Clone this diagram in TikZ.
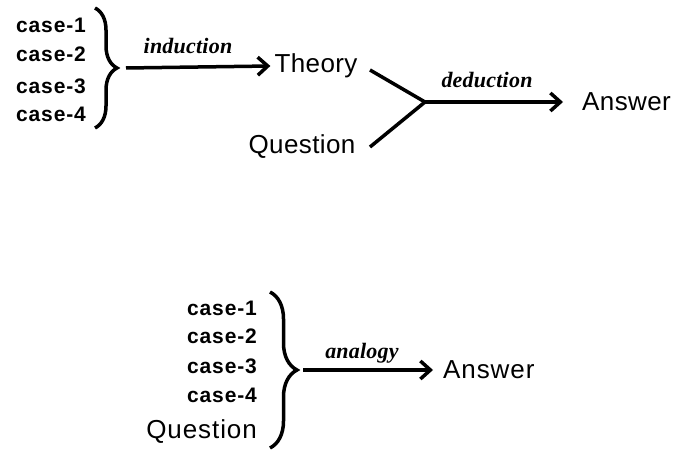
\documentclass[tikz,border=0pt]{standalone}
\usepackage{fontspec}
\setmainfont{Liberation Sans}
\usetikzlibrary{decorations.pathreplacing,arrows.meta}
\newfontfamily\casefont[LetterSpace=4]{Liberation Sans}
\newfontfamily\wordfont[LetterSpace=1.5]{Liberation Sans}
\newfontfamily\wordfontb[LetterSpace=3.5]{Liberation Sans}
\newfontfamily\labfont[LetterSpace=1]{Liberation Serif}
\tikzset{
 casetxt/.style={font=\casefont\bfseries\fontsize{21}{21}\selectfont, inner sep=0pt, anchor=east},
 word/.style={font=\wordfont\fontsize{26}{26}\selectfont, inner sep=0pt},
 wordb/.style={font=\wordfontb\fontsize{26}{26}\selectfont, inner sep=0pt},
 lab/.style={font=\labfont\bfseries\itshape\fontsize{22}{22}\selectfont, inner sep=0pt},
 conn/.style={line width=3.5pt},
 arr/.style={line width=3.5pt, -{Straight Barb[length=10pt,width=18pt]}},
 bracebig/.style={decorate, decoration={brace, amplitude=#1}, line width=3.5pt}
}
\begin{document}
\begin{tikzpicture}[x=1pt,y=-1pt]
\useasboundingbox (0,0) rectangle (676,454);
% top: induction
\node[casetxt] (c1) at (86,25) {case-1};
\node[casetxt] (c2) at (86,54) {case-2};
\node[casetxt] (c3) at (86,86) {case-3};
\node[casetxt] (c4) at (86,114) {case-4};
\coordinate (b1top) at (95,8);
\coordinate (b1bot) at (95,128);
\coordinate (b1tip) at (118,68);
\draw[bracebig=22pt] (b1top) -- (b1bot);
\node[word] (theory) at (316,66) {Theory};
\draw[arr] ([xshift=8pt]b1tip) -- ([xshift=-4pt]theory.west);
\node[lab] (ind) at (188,46) {induction};
% deduction
\node[word] (q1) at (302,147) {Question};
\coordinate (ts) at (370,70);
\coordinate (qs) at (370,147);
\coordinate (j) at (425,102);
\node[word, anchor=west] (ans1) at (582,102) {Answer};
\draw[conn] (ts) -- (j);
\draw[conn] (qs) -- (j);
\draw[arr] (j) -- ([xshift=-19pt]ans1.west);
\node[lab] (ded) at (487,80) {deduction};
% bottom: analogy
\node[casetxt] (d1) at (257,308) {case-1};
\node[casetxt] (d2) at (257,336) {case-2};
\node[casetxt] (d3) at (257,366) {case-3};
\node[casetxt] (d4) at (257,395) {case-4};
\node[wordb, anchor=east] (q2) at (257,432) {Question};
\coordinate (b2top) at (270,292);
\coordinate (b2bot) at (270,448);
\coordinate (b2tip) at (297,370);
\draw[bracebig=27pt] (b2top) -- (b2bot);
\node[wordb, anchor=west] (ans2) at (443,370) {Answer};
\draw[arr] ([xshift=6pt]b2tip) -- ([xshift=-10pt]ans2.west);
\node[lab] (ana) at (362,353) {analogy};
\end{tikzpicture}
\end{document}
